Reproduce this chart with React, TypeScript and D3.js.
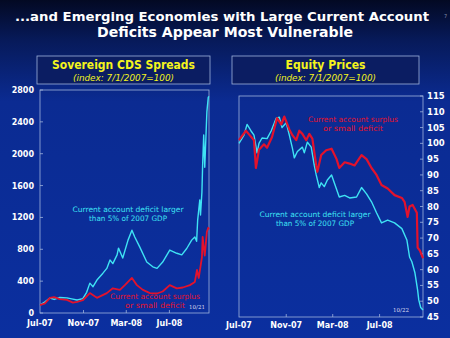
import React from 'react';
import * as d3 from 'd3';

// Sovereign CDS spreads (index: 7/1/2007=100)
const cdsDeficit: [string, number][] = [
  ['2007-07-01', 100], ['2007-07-15', 140], ['2007-07-29', 188], ['2007-08-10', 170],
  ['2007-08-26', 195], ['2007-09-15', 190], ['2007-10-02', 175], ['2007-10-14', 163],
  ['2007-10-30', 180], ['2007-11-10', 260], ['2007-11-19', 375], ['2007-11-28', 330],
  ['2007-12-09', 414], ['2007-12-26', 500], ['2008-01-06', 560], ['2008-01-15', 665],
  ['2008-01-23', 620], ['2008-02-04', 730], ['2008-02-08', 815], ['2008-02-20', 690],
  ['2008-03-06', 915], ['2008-03-17', 1040], ['2008-03-25', 955], ['2008-04-08', 830],
  ['2008-04-28', 640], ['2008-05-15', 580], ['2008-05-27', 560], ['2008-06-12', 640],
  ['2008-07-02', 790], ['2008-07-22', 750], ['2008-08-05', 730], ['2008-08-19', 810],
  ['2008-09-02', 915], ['2008-09-11', 955], ['2008-09-16', 900], ['2008-09-19', 1170],
  ['2008-09-25', 1420], ['2008-09-27', 1230], ['2008-10-01', 1520], ['2008-10-03', 1860],
  ['2008-10-06', 2235], ['2008-10-09', 1830], ['2008-10-15', 2525], ['2008-10-19', 2710],
  ['2008-10-21', 2720],
];
const cdsSurplus: [string, number][] = [
  ['2007-07-01', 100], ['2007-07-15', 120], ['2007-07-29', 190], ['2007-08-10', 200],
  ['2007-08-26', 175], ['2007-09-15', 165], ['2007-10-02', 130], ['2007-10-14', 140],
  ['2007-10-30', 160], ['2007-11-19', 250], ['2007-12-09', 190], ['2008-01-06', 250],
  ['2008-01-23', 310], ['2008-02-12', 290], ['2008-02-26', 350], ['2008-03-17', 440],
  ['2008-03-31', 350], ['2008-04-17', 290], ['2008-05-07', 250], ['2008-05-27', 245],
  ['2008-06-12', 270], ['2008-07-02', 350], ['2008-07-22', 310], ['2008-08-08', 320],
  ['2008-08-28', 350], ['2008-09-11', 390], ['2008-09-17', 540], ['2008-09-22', 440],
  ['2008-10-01', 700], ['2008-10-03', 955], ['2008-10-09', 720], ['2008-10-15', 1020],
  ['2008-10-19', 1070], ['2008-10-21', 1050],
];

// Equity prices (index: 7/1/2007=100)
const eqDeficit: [string, number][] = [
  ['2007-07-01', 100], ['2007-07-14', 102.6], ['2007-07-22', 106], ['2007-08-01', 104],
  ['2007-08-09', 102.6], ['2007-08-17', 97], ['2007-08-22', 100], ['2007-08-30', 101.7],
  ['2007-09-12', 101.5], ['2007-09-23', 104], ['2007-10-06', 108], ['2007-10-14', 108.3],
  ['2007-10-21', 105], ['2007-11-01', 106.5], ['2007-11-09', 102.6], ['2007-11-17', 98.5],
  ['2007-11-22', 95.4], ['2007-11-30', 97.4], ['2007-12-13', 98.8], ['2007-12-18', 97],
  ['2007-12-26', 100.4], ['2008-01-05', 98.8], ['2008-01-13', 93], ['2008-01-18', 90],
  ['2008-01-26', 86], ['2008-01-31', 87.5], ['2008-02-08', 86.3], ['2008-02-16', 88.4],
  ['2008-02-27', 90], ['2008-03-05', 87.5], ['2008-03-18', 83], ['2008-04-01', 83.5],
  ['2008-04-14', 82.7], ['2008-05-02', 83], ['2008-05-15', 86], ['2008-05-28', 84],
  ['2008-06-10', 81.5], ['2008-06-23', 78], ['2008-07-06', 74.8], ['2008-07-22', 75.7],
  ['2008-08-09', 74.8], ['2008-08-28', 73], ['2008-09-10', 69.4], ['2008-09-17', 64],
  ['2008-09-23', 62.5], ['2008-10-01', 59], ['2008-10-08', 53.5], ['2008-10-11', 50.4],
  ['2008-10-16', 48], ['2008-10-22', 47.2],
];
const eqSurplus: [string, number][] = [
  ['2007-07-01', 101], ['2007-07-19', 104], ['2007-07-26', 103], ['2007-08-09', 101],
  ['2007-08-14', 92.2], ['2007-08-22', 98], ['2007-09-04', 99.7], ['2007-09-12', 98.6],
  ['2007-09-25', 102], ['2007-10-08', 108], ['2007-10-19', 106], ['2007-10-27', 108.5],
  ['2007-11-09', 104.4], ['2007-11-17', 102.6], ['2007-11-27', 101], ['2007-12-05', 104],
  ['2007-12-13', 103], ['2007-12-23', 101], ['2007-12-31', 103], ['2008-01-08', 101.5],
  ['2008-01-18', 93], ['2008-01-21', 91], ['2008-01-31', 96.3], ['2008-02-13', 97.8],
  ['2008-02-27', 98.3], ['2008-03-11', 95], ['2008-03-18', 92.2], ['2008-04-01', 94],
  ['2008-04-14', 93.6], ['2008-04-27', 93], ['2008-05-15', 96.3], ['2008-05-28', 95],
  ['2008-06-10', 92.2], ['2008-06-23', 90], ['2008-07-06', 86.8], ['2008-07-22', 85.7],
  ['2008-08-09', 83.6], ['2008-08-28', 82.7], ['2008-09-04', 81.5], ['2008-09-12', 76.7],
  ['2008-09-17', 80], ['2008-09-25', 80.5], ['2008-10-06', 78], ['2008-10-08', 67],
  ['2008-10-14', 66], ['2008-10-22', 63.6],
];

const cdsTicks = [0, 400, 800, 1200, 1600, 2000, 2400, 2800];
const eqTicks = [45, 50, 55, 60, 65, 70, 75, 80, 85, 90, 95, 100, 105, 110, 115];
const monthTicks = ['2007-07-01', '2007-11-01', '2008-03-01', '2008-07-01'];
const monthLabels = ['Jul-07', 'Nov-07', 'Mar-08', 'Jul-08'];

const parse = d3.timeParse('%Y-%m-%d');
const CYAN = '#3fe3f4';
const RED = '#e3122c';
const BORDER = '#9fb2dc';
const YELLOW = '#f4f41c';
const font = 'DejaVu Sans, Verdana, sans-serif';

type Row = [string, number];

function Panel({ x0, x1, y0, y1, end, ticks, yDomain, axisRight, labelGap, deficit, surplus, children }: any) {
  const x = d3.scaleTime().domain([parse('2007-07-01')!, parse(end)!]).range([x0, x1]);
  const y = d3.scaleLinear().domain(yDomain).range([y1, y0]);
  const line = d3.line<Row>().x(d => x(parse(d[0])!)).y(d => y(d[1]));
  return (
    <g>
      <rect x={x0} y={y0} width={x1 - x0} height={y1 - y0} fill="none" stroke={BORDER} strokeWidth={0.8} />
      {ticks.map((t: number) => (
        <g key={t}>
          <line x1={axisRight ? x1 : x0} x2={axisRight ? x1 - 3 : x0 + 3} y1={y(t)} y2={y(t)} stroke={BORDER} strokeWidth={0.8} />
          <text x={axisRight ? x1 + 4 : x0 - 6} y={y(t) + 3} textAnchor={axisRight ? 'start' : 'end'}
            fill="#fff" fontSize={axisRight ? 8.5 : 8} fontWeight="bold" fontFamily={font}>{t}</text>
        </g>
      ))}
      {monthTicks.map((m, i) => (
        <g key={m}>
          {i > 0 && <line x1={x(parse(m)!)} x2={x(parse(m)!)} y1={y1} y2={y1 - 3} stroke={BORDER} strokeWidth={0.8} />}
          <text x={x(parse(m)!)} y={y1 + labelGap} textAnchor="middle" fill="#fff" fontSize={8} fontWeight="bold" fontFamily={font}>{monthLabels[i]}</text>
        </g>
      ))}
      <path d={line(deficit) || ''} fill="none" stroke={CYAN} strokeWidth={1.4} strokeLinejoin="round" />
      <path d={line(surplus) || ''} fill="none" stroke={RED} strokeWidth={axisRight ? 2.2 : 1.8} strokeLinejoin="round" />
      {children}
    </g>
  );
}

function Header({ x, w, title, titleLen }: { x: number; w: number; title: string; titleLen: number }) {
  const cx = x + w / 2;
  return (
    <g>
      <rect x={x} y={56} width={w} height={28} fill="#0b1d62" stroke={BORDER} strokeWidth={0.8} />
      <text x={cx} y={69} textAnchor="middle" fill={YELLOW} fontSize={12} fontWeight="bold" fontFamily={font}
        textLength={titleLen} lengthAdjust="spacingAndGlyphs">{title}</text>
      <text x={cx} y={80.5} textAnchor="middle" fill={YELLOW} fontSize={8} fontStyle="italic" fontFamily={font}
        textLength={101} lengthAdjust="spacingAndGlyphs">(index: 7/1/2007=100)</text>
    </g>
  );
}

function Note({ x, y, color, lines, len }: { x: number; y: number; color: string; lines: string[]; len: number[] }) {
  return (
    <g>
      {lines.map((l, i) => (
        <text key={i} x={x} y={y + i * 9} textAnchor="middle" fill={color} fontSize={7.5} fontFamily={font}
          textLength={len[i]} lengthAdjust="spacingAndGlyphs">{l}</text>
      ))}
    </g>
  );
}

export default function App() {
  const deficitLines = ['Current account deficit larger', 'than 5% of 2007 GDP'];
  const surplusLines = ['Current account surplus', 'or small deficit'];
  return (
    <svg width={450} height={338} style={{ position: 'absolute', left: 0, top: 0 }}>
      <defs>
        <linearGradient id="bg" x1="0" y1="0" x2="0" y2="1">
          <stop offset="0" stopColor="#030923" />
          <stop offset="0.12" stopColor="#071a5a" />
          <stop offset="0.3" stopColor="#0b2b92" />
          <stop offset="1" stopColor="#0b2f9f" />
        </linearGradient>
      </defs>
      <rect width={450} height={338} fill="url(#bg)" />
      <text x={222} y={21} textAnchor="middle" fill="#fff" fontSize={12.8} fontWeight="bold" fontFamily={font}
        textLength={414} lengthAdjust="spacingAndGlyphs">...and Emerging Economies with Large Current Account</text>
      <text x={225} y={37} textAnchor="middle" fill="#fff" fontSize={13.5} fontWeight="bold" fontFamily={font}
        textLength={256} lengthAdjust="spacingAndGlyphs">Deficits Appear Most Vulnerable</text>
      <text x={444} y={18} fill="#8a94b0" fontSize={5} fontFamily={font}>7</text>

      <Header x={37} w={173} title="Sovereign CDS Spreads" titleLen={143} />
      <Header x={232} w={187} title="Equity Prices" titleLen={80} />

      <Panel x0={40} x1={209} y0={90} y1={313} end="2008-10-21" ticks={cdsTicks} yDomain={[0, 2800]}
        axisRight={false} labelGap={13} deficit={cdsDeficit} surplus={cdsSurplus}>
        <Note x={128} y={212} color={CYAN} lines={deficitLines} len={[111, 78]} />
        <Note x={155} y={299} color={RED} lines={surplusLines} len={[90, 60]} />
        <text x={197} y={309} textAnchor="middle" fill="#dde" fontSize={5.5} fontFamily="DejaVu Serif, serif">10/21</text>
      </Panel>
      <Panel x0={239} x1={423} y0={96} y1={317} end="2008-10-22" ticks={eqTicks} yDomain={[45, 115]}
        axisRight={true} labelGap={11} deficit={eqDeficit} surplus={eqSurplus}>
        <Note x={353} y={122} color={RED} lines={surplusLines} len={[90, 60]} />
        <Note x={315} y={217} color={CYAN} lines={deficitLines} len={[111, 78]} />
        <text x={401} y={312} textAnchor="middle" fill="#dde" fontSize={5.5} fontFamily="DejaVu Serif, serif">10/22</text>
      </Panel>
    </svg>
  );
}
